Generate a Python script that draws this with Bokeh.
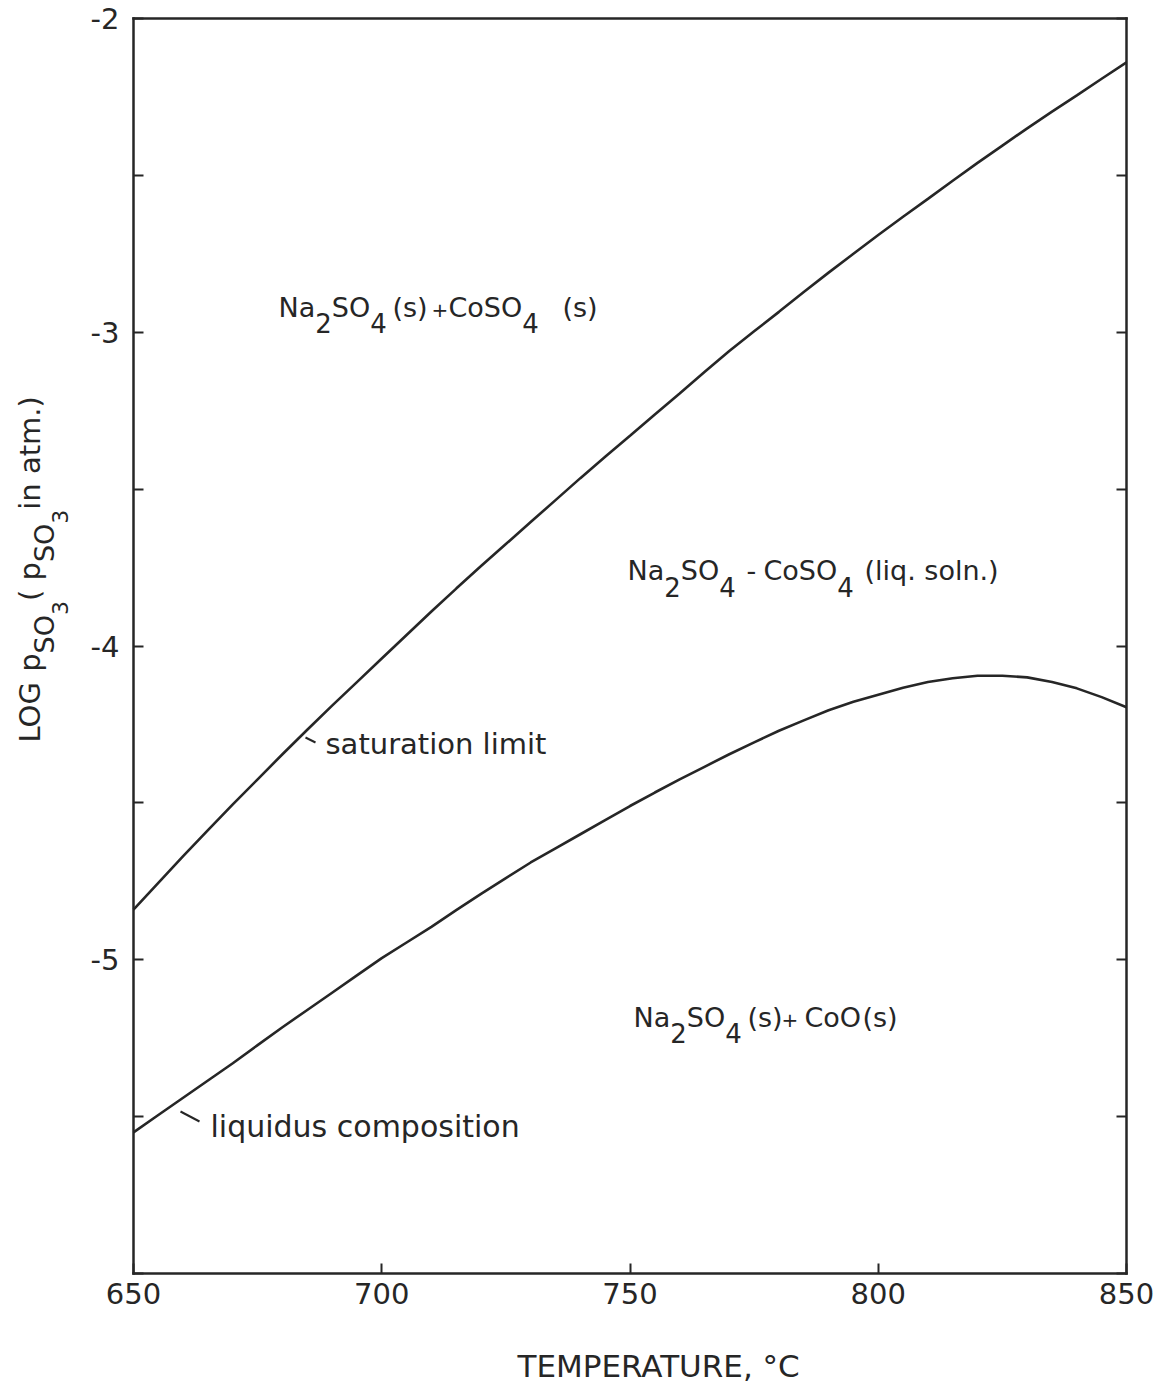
from math import pi
from bokeh.plotting import figure
from bokeh.models import Range1d, FixedTicker, LinearAxis, Label
from bokeh.embed import file_html
from bokeh.resources import INLINE

# ---------------- data ----------------
temperature = [650, 655, 660, 665, 670, 675, 680, 685, 690, 695, 700,
               705, 710, 715, 720, 725, 730, 735, 740, 745, 750,
               755, 760, 765, 770, 775, 780, 785, 790, 795, 800,
               805, 810, 815, 820, 825, 830, 835, 840, 845, 850]
saturation_limit = [-4.84, -4.755, -4.67, -4.587, -4.505, -4.425, -4.345,
                    -4.267, -4.19, -4.115, -4.04, -3.965, -3.89, -3.817,
                    -3.745, -3.675, -3.605, -3.535, -3.465, -3.397, -3.33,
                    -3.262, -3.195, -3.127, -3.06, -2.997, -2.935, -2.872,
                    -2.81, -2.75, -2.69, -2.632, -2.575, -2.517, -2.46,
                    -2.405, -2.35, -2.297, -2.245, -2.192, -2.14]
liquidus_composition = [-5.55, -5.495, -5.44, -5.385, -5.33, -5.272, -5.215,
                        -5.16, -5.105, -5.05, -4.995, -4.945, -4.895, -4.842,
                        -4.79, -4.74, -4.69, -4.645, -4.60, -4.555, -4.51,
                        -4.467, -4.425, -4.385, -4.345, -4.307, -4.27, -4.237,
                        -4.205, -4.178, -4.155, -4.133, -4.115, -4.103, -4.095,
                        -4.095, -4.10, -4.115, -4.135, -4.163, -4.195]
x_ticks = [650, 700, 750, 800, 850]
x_tick_labels = ["650", "700", "750", "800", "850"]
y_ticks = [-6, -5.5, -5, -4.5, -4, -3.5, -3, -2.5, -2]
y_tick_labels = ["", "", "-5", "", "-4", "", "-3", "", "-2"]

FONT = "DejaVu Sans"
INK = "#262626"
CW, CH = 1160, 1385          # canvas size
K_BASE = 0.38                # empirical baseline correction (fraction of size)

# where the drawn box sits on the page (pixels)
FL, FR, FT, FB = 133, 1126, 18, 1273
XPX = (FR - FL) / 200.0
YPX = (FB - FT) / 4.0


def px2x(px):
    return 650 + (px - FL) / XPX


def py2y(py):
    return -2 - (py - FT) / YPX


p = figure(width=CW, height=CH,
           x_range=Range1d(px2x(0), px2x(CW)),
           y_range=Range1d(py2y(CH), py2y(0)),
           output_backend="svg", toolbar_location=None,
           min_border_left=0, min_border_top=0,
           min_border_right=0, min_border_bottom=0)
p.title.visible = False
p.grid.visible = False
p.background_fill_color = "white"
p.border_fill_color = "white"
p.outline_line_color = None


def style_axis(ax, labels):
    ax.axis_line_color = INK
    ax.axis_line_width = 2.5
    ax.axis_line_cap = "square"
    ax.major_tick_in = 10
    ax.major_tick_out = 0
    ax.minor_tick_in = 0
    ax.minor_tick_out = 0
    ax.major_tick_line_width = 2
    ax.major_tick_line_color = INK
    ax.major_label_text_font = FONT
    ax.major_label_text_font_size = "29px"
    ax.major_label_text_color = INK if labels else None


bx = p.xaxis[0]
bx.fixed_location = -6
bx.bounds = (650, 850)
bx.ticker = FixedTicker(ticks=x_ticks)
bx.major_label_overrides = dict(zip(x_ticks, x_tick_labels))
bx.major_label_standoff = 9
style_axis(bx, True)

ly = p.yaxis[0]
ly.fixed_location = 650
ly.bounds = (-6, -2)
ly.ticker = FixedTicker(ticks=y_ticks)
ly.major_label_overrides = dict(zip(y_ticks, y_tick_labels))
ly.major_label_standoff = 14
style_axis(ly, True)

ry = LinearAxis(fixed_location=850, bounds=(-6, -2),
                ticker=FixedTicker(ticks=y_ticks))
style_axis(ry, False)
ry.major_label_text_font_size = "1px"
p.add_layout(ry, "right")

tx = LinearAxis(fixed_location=-2, bounds=(650, 850),
                ticker=FixedTicker(ticks=[]))
style_axis(tx, False)
tx.major_label_text_font_size = "1px"
p.add_layout(tx, "above")

p.line(temperature, saturation_limit, line_width=2.6, line_color=INK)
p.line(temperature, liquidus_composition, line_width=2.6, line_color=INK)

W = {" ": .318, "L": .557, "O": .787, "G": .775, "p": .635, "S": .635,
     "N": .748, "C": .698, "a": .613, "o": .612, "s": .521, "l": .278,
     "q": .635, "(": .39, ")": .39, "i": .278, "n": .634, "t": .392,
     "m": .974, ".": .318, "-": .361, "+": .838,
     "2": .636, "3": .636, "4": .636}


def twidth(text, size):
    return sum(W.get(c, 0.6) for c in text) * size


def lab(text, px, py, size, angle=0.0):
    if angle == 0.0:
        py = py - K_BASE * size
    else:
        px = px - K_BASE * size
    p.add_layout(Label(x=px2x(px), y=py2y(py), text=text, angle=angle,
                       text_font=FONT, text_font_size=f"{size}px",
                       text_color=INK, text_align="left",
                       text_baseline="alphabetic"))


def formula(pieces, base, sub, size=27, sub_size=26):
    cur = 0
    for text, x0, level in pieces:
        x = x0 if x0 is not None else cur
        s = 20 if text == "+" else (size if level == 0 else sub_size)
        lab(text, x, base if level == 0 else sub, s)
        cur = x + twidth(text, s)


formula([("Na", 278, 0), ("2", None, 1), ("SO", None, 0), ("4", None, 1),
         ("(s)", 392, 0), ("+", 431, 0), ("Co", 448, 0), ("SO", None, 0),
         ("4", None, 1), ("(s)", 562, 0)], 317, 332)
formula([("Na", 627, 0), ("2", None, 1), ("SO", None, 0), ("4", None, 1),
         ("-", 746, 0), ("Co", 763, 0), ("SO", None, 0), ("4", None, 1),
         ("(liq. soln.)", 864, 0)], 580, 596)
formula([("Na", 633, 0), ("2", None, 1), ("SO", None, 0), ("4", None, 1),
         ("(s)", 747, 0), ("+", 781, 0), ("CoO", 804, 0), ("(s)", 862, 0)],
        1027, 1042)

lab("saturation limit", 325, 755, 29)
lab("liquidus composition", 210, 1137, 30)

# small leader strokes
p.line([px2x(305), px2x(315)], [py2y(737), py2y(742)], line_width=2, line_color=INK)
p.line([px2x(180), px2x(199)], [py2y(1111), py2y(1121)], line_width=2, line_color=INK)

# x axis title
lab("TEMPERATURE, \u00b0C", 517, 1377, 31)

# rotated y axis title with subscripts
runs = [("LOG ", 0, 29), ("p", 0, 29), ("SO", 1, 27), ("3", 2, 22),
        (" (", 0, 29), ("p", 0, 29), ("SO", 1, 27), ("3", 2, 22),
        (" in atm.)", 0, 29)]
base_x = {0: 41, 1: 54, 2: 68}
cur = 742
for text, level, size in runs:
    lab(text, base_x[level], cur, size, angle=pi / 2)
    cur -= twidth(text, size)

open("out.html", "w").write(file_html(p, INLINE))
